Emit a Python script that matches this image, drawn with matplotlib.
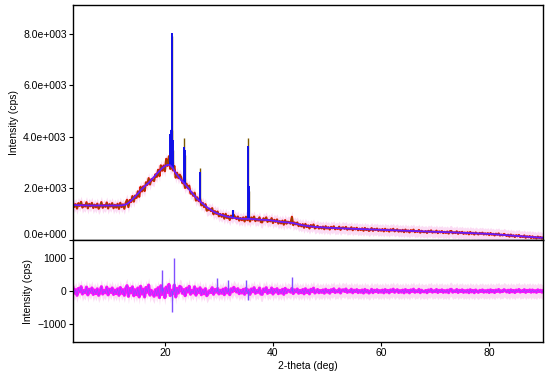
import numpy as np
from matplotlib import pyplot as plt
from matplotlib.ticker import FuncFormatter

plt.rcParams['font.family'] = ['Liberation Sans', 'DejaVu Sans']

# 2-theta grids
calc_theta = np.arange(3.0, 90.01, 0.5)
obs_theta = np.arange(3.0, 90.01, 0.25)

# calculated background (blue)
calc = [1360,1355,1350,1350,1345,1345,1340,1340,1340,1340,
        1340,1340,1340,1340,1340,1340,1340,1340,1345,1360,
        1400,1480,1580,1690,1800,1920,2030,2130,2220,2340,
        2450,2570,2680,2790,2870,2920,2900,2780,2600,2460,
        2330,2220,2100,1970,1830,1710,1600,1500,1410,1320,
        1240,1170,1100,1050,1010,970,940,910,890,870,
        850,840,830,825,820,820,815,810,800,790,
        785,780,775,765,750,735,720,705,695,685,
        675,665,645,620,595,570,555,540,528,516,
        506,498,490,484,478,473,468,463,458,454,
        450,446,442,438,434,430,426,422,418,415,
        412,408,404,400,396,392,388,384,380,376,
        372,368,364,360,354,350,346,342,338,334,
        330,327,324,321,318,315,312,309,306,302,
        298,294,290,286,282,278,274,270,266,262,
        258,254,250,244,238,230,222,214,206,198,
        190,182,174,166,158,150,142,134,126,118,
        110,104,98,94,90]

# observed counts, 0.25 deg steps
obs = [1455,1285,1390,1220,1430,1325,1480,1260,1360,1300,1465,1230,1400,1310,1440,1245,1370,1270,1410,1215,
       1315,1470,1250,1355,1290,1455,1225,1390,1300,1430,1235,1365,1260,1405,1210,1445,1280,1385,1215,1440,
       1560,1280,1550,1475,1705,1490,1725,1635,1890,1680,2065,1885,2085,1900,2240,2140,2400,2155,2360,2325,
       2290,2550,2450,2725,2480,2895,2690,2890,2670,3150,2880,3250,2760,2860,2700,2870,2420,2610,2400,2535,
       2440,2205,2260,2020,2185,2005,2110,1800,1845,1715,1835,1530,1655,1510,1600,1345,1440,1280,1390,1140,
       1165,1215,1125,1235,1000,1120,1015,1105,920,1010,905,1010,830,1015,855,935,780,945,850,970,
       890,815,910,755,850,770,875,720,900,770,850,720,875,790,910,735,810,755,880,700,
       685,842,760,878,705,780,725,848,660,782,705,798,640,732,645,750,595,770,635,710,
       683,636,900,578,679,606,680,540,612,531,613,477,623,505,566,449,579,505,601,451,
       486,548,446,507,451,520,419,533,445,495,408,509,455,530,417,467,432,515,395,478,
       486,436,506,402,448,416,492,382,458,414,472,380,438,388,452,360,466,386,433,353,
       390,460,358,428,387,441,356,409,363,422,337,434,360,403,329,415,369,433,337,380,
       411,326,379,333,392,307,404,329,371,297,383,337,401,305,348,318,388,286,356,315,
       305,343,277,355,314,372,286,324,298,361,270,333,297,345,269,317,276,329,252,340,
       348,261,299,272,335,243,306,269,317,240,288,246,299,222,310,243,281,214,292,250,
       218,274,240,284,214,256,217,264,193,270,207,240,177,245,205,255,174,207,180,234,
       199,159,205,133,210,147,180,117,185,145,195,114,147,120,175,89,144,108,150,78,
       140,82,114,61,133,81,114,57,100]

# difference (obs - calc), 0.25 deg steps
diff = [104,-65,39,-130,78,-26,130,-91,13,-52,117,-117,52,-39,91,-104,26,-78,65,-130,
        -26,130,-91,13,-52,117,-117,52,-39,91,-104,26,-78,65,-130,104,-65,39,-130,78,
        162,-162,72,-54,126,-144,36,-108,90,-180,144,-90,54,-180,108,-36,180,-126,18,-72,
        -160,40,-120,100,-200,160,-100,60,-200,120,-40,200,-140,20,-80,180,-180,80,-60,140,
        112,-70,42,-140,84,-28,140,-98,14,-56,126,-126,56,-42,98,-112,28,-84,70,-140,
        -77,11,-44,99,-99,44,-33,77,-88,22,-66,55,-110,88,-55,33,-110,66,-22,110,
        40,-30,70,-80,20,-60,50,-100,80,-50,30,-100,60,-20,100,-70,10,-40,90,-90,
        -100,60,-20,100,-70,10,-40,90,-90,40,-30,70,-80,20,-60,50,-100,80,-50,30,
        8,-34,77,-77,34,-26,60,-68,17,-51,43,-85,68,-43,26,-85,51,-17,85,-60,
        -20,46,-52,13,-39,33,-65,52,-33,20,-65,39,-13,65,-46,7,-26,59,-59,26,
        36,-12,60,-42,6,-24,54,-54,24,-18,42,-48,12,-36,30,-60,48,-30,18,-60,
        -22,50,-50,22,-17,39,-44,11,-33,28,-55,44,-28,17,-55,33,-11,55,-39,6,
        39,-44,11,-33,28,-55,44,-28,17,-55,33,-11,55,-39,6,-22,50,-50,22,-17,
        -25,15,-50,30,-10,50,-35,5,-20,45,-45,20,-15,35,-40,10,-30,25,-50,40,
        50,-35,5,-20,45,-45,20,-15,35,-40,10,-30,25,-50,40,-25,15,-50,30,-10,
        -40,18,-14,32,-36,9,-27,23,-45,36,-23,14,-45,27,-9,45,-32,5,-18,40,
        9,-27,23,-45,36,-23,14,-45,27,-9,45,-32,5,-18,41,-41,18,-14,32,-36,
        30,-25,10,-40,35,-15,20,-35,10]

# sharp reflections
peak_pos  = [20.95, 21.1, 21.25, 21.4, 21.55, 23.6, 23.7, 26.45, 32.6, 35.35, 35.5]
peak_base = [2900, 2890, 2870, 2830, 2780, 2200, 2180, 1500, 870, 820, 820]
peak_calc = [4100, 4250, 8050, 4200, 3900, 3600, 3500, 2650, 1150, 3650, 2100]
peak_obs  = [3400, 4300, 7900, 4250, 3500, 3950, 3300, 2800, 1050, 3950, 1900]

diff_spike_pos = [19.5, 21.3, 21.65, 29.6, 31.7, 35.0, 35.4, 43.5]
diff_spike_val = [640, -630, 1000, 400, 330, 320, -270, 430]


def sci_fmt(v, pos):
	if v == 0:
		return '0.0e+000'
	e = int(np.floor(np.log10(abs(v))))
	return '%.1fe%+04d' % (v / 10**e, e)


fig = plt.figure(figsize=(5.5, 3.82), dpi=100)
ax1 = fig.add_axes([0.1327, 0.3717, 0.855, 0.6152])
ax2 = fig.add_axes([0.1327, 0.1047, 0.855, 0.267])

# top panel
ax1.fill_between(obs_theta, np.array(obs) - 220, np.array(obs) + 220, color='#fbdcf4', lw=0)
ax1.plot(obs_theta, obs, color='#e81000', lw=1.6)
ax1.plot(obs_theta, obs, color='#7a5800', lw=0.6)
ax1.vlines(peak_pos, peak_base, peak_obs, color='#7a5800', lw=1.0)
ax1.vlines(peak_pos, peak_base, peak_calc, color='#1010e8', lw=1.4)
ax1.plot(calc_theta, calc, color='#6a1aff', lw=1.3)

ax1.set_xlim(3, 90)
ax1.set_ylim(0, 9120)
ax1.set_yticks([0, 2000, 4000, 6000, 8000])
ax1.yaxis.set_major_formatter(FuncFormatter(sci_fmt))
ax1.set_xticks([])
ax1.set_ylabel('Intensity (cps)', fontsize=7.5, labelpad=3)
ax1.yaxis.get_major_ticks()[0].label1.set_va('bottom')

# bottom panel
ax2.fill_between(obs_theta, np.array(diff) - 220, np.array(diff) + 220, color='#fbdcf4', lw=0)
ax2.axhline(0, color='#ff2020', lw=0.8)
ax2.plot(obs_theta, diff, color='#ff10ff', lw=2.3)
ax2.plot(obs_theta, diff, color='#8050ff', lw=0.5, alpha=0.8)
ax2.vlines(diff_spike_pos, 0, diff_spike_val, color='#8050ff', lw=1.0)

ax2.set_xlim(3, 90)
ax2.set_ylim(-1550, 1550)
ax2.set_yticks([-1000, 0, 1000])
ax2.set_xticks([20, 40, 60, 80])
ax2.set_ylabel('Intensity (cps)', fontsize=7.5, labelpad=3)
ax2.set_xlabel('2-theta (deg)', fontsize=7.5, labelpad=2)

for ax in (ax1, ax2):
	for s in ax.spines.values():
		s.set_linewidth(1.0)
	ax.tick_params(labelsize=7.5, length=3, width=0.8, pad=1.5)

fig.savefig('out.png', dpi=100)
